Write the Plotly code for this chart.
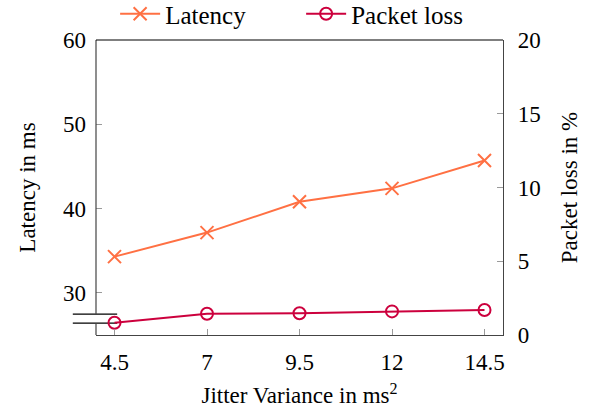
import plotly.graph_objects as go

jitter = [4.5, 7, 9.5, 12, 14.5]
jitter_labels = ["4.5", "7", "9.5", "12", "14.5"]
latency = [34.3, 37.15, 40.8, 42.4, 45.7]
packet_loss = [0.83, 1.44, 1.47, 1.6, 1.69]
lat_ticks = [30, 40, 50, 60]
loss_ticks = [0, 5, 10, 15, 20]

FONT = "Liberation Serif"
LAT_COLOR = "#FF7043"
LOSS_COLOR = "#CC003D"
AXIS = "#444444"
TICK = "#9a9a9a"
FS = 23

fig = go.Figure()
fig.add_trace(go.Scatter(
    x=jitter, y=latency, name="Latency", mode="lines+markers",
    line=dict(color=LAT_COLOR, width=2),
    marker=dict(symbol="x-thin", size=13, line=dict(color=LAT_COLOR, width=2), color=LAT_COLOR),
))
fig.add_trace(go.Scatter(
    x=jitter, y=packet_loss, name="Packet loss", mode="lines+markers", yaxis="y2",
    line=dict(color=LOSS_COLOR, width=2),
    marker=dict(symbol="circle-open", size=12, line=dict(color=LOSS_COLOR, width=2), color=LOSS_COLOR),
))

brk_lo, brk_hi = 26.4, 27.47
shapes = [
    dict(type="line", xref="paper", yref="y", x0=0, x1=0, y0=25, y1=brk_lo,
         line=dict(color=AXIS, width=1.2), layer="above"),
    dict(type="line", xref="paper", yref="y", x0=0, x1=0, y0=brk_hi, y1=60,
         line=dict(color=AXIS, width=1.2), layer="above"),
    dict(type="line", xref="paper", yref="y", x0=-0.057, x1=0.052, y0=brk_lo, y1=brk_lo,
         line=dict(color="black", width=1.2), layer="below"),
    dict(type="line", xref="paper", yref="y", x0=-0.057, x1=0.052, y0=brk_hi, y1=brk_hi,
         line=dict(color="black", width=1.2), layer="below"),
    dict(type="line", xref="paper", yref="paper", x0=0, x1=1, y0=1, y1=1,
         line=dict(color="black", width=1.2), layer="above"),
]

fig.update_layout(
    width=600, height=412,
    margin=dict(l=96, r=97, t=40, b=77, autoexpand=False),
    paper_bgcolor="white", plot_bgcolor="white",
    font=dict(family=FONT, size=FS, color="black"),
    showlegend=True,
    legend=dict(orientation="h", x=0.504, xanchor="center", y=1.01, yanchor="bottom",
                font=dict(family=FONT, size=25), bgcolor="rgba(0,0,0,0)",
                itemwidth=40, tracegroupgap=0, entrywidth=131, entrywidthmode="pixels"),
    xaxis=dict(range=[4, 15], tickvals=jitter, ticktext=jitter_labels, automargin=False,
               showgrid=False, zeroline=False, showline=True, linecolor=AXIS, linewidth=1.2,
               mirror=False, ticks="inside", ticklen=6, tickcolor=TICK, tickwidth=1,
               tickfont=dict(size=FS), ticklabelstandoff=6,
               title=dict(text="Jitter Variance in ms<sup>2</sup>", font=dict(size=FS), standoff=13)),
    yaxis=dict(range=[25, 60], tickvals=lat_ticks, showgrid=False, zeroline=False, automargin=False,
               showline=False, ticks="inside", ticklen=6, tickcolor=TICK, tickwidth=1,
               tickfont=dict(size=FS), ticklabelstandoff=9,
               title=dict(text="Latency in ms", font=dict(size=FS), standoff=20)),
    yaxis2=dict(range=[0, 20], tickvals=loss_ticks, overlaying="y", side="right", automargin=False,
                showgrid=False, zeroline=False, showline=True, linecolor=AXIS, linewidth=1.2,
                ticks="inside", ticklen=6, tickcolor=TICK, tickwidth=1,
                tickfont=dict(size=FS), ticklabelstandoff=9,
                title=dict(text="Packet loss in %", font=dict(size=FS), standoff=21)),
    shapes=shapes,
)

fig.write_html("out.html")
